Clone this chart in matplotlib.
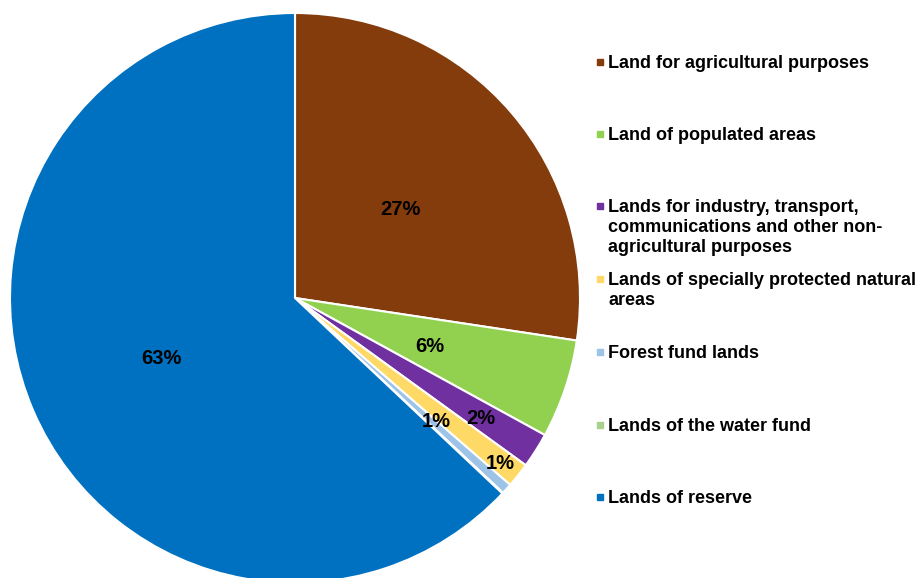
import numpy as np
import matplotlib.pyplot as plt
from matplotlib.patches import Rectangle

# land categories and shares (%)
categories = ['Land for agricultural purposes',
              'Land of populated areas',
              'Lands for industry, transport,\ncommunications and other non-\nagricultural purposes',
              'Lands of specially protected natural\nareas',
              'Forest fund lands',
              'Lands of the water fund',
              'Lands of reserve']
shares = [27.4, 5.6, 2.0, 1.4, 0.6, 0.05, 63.0]
labels = ['27%', '6%', '2%', '1%', '1%', '', '63%']
colors = ['#843C0C', '#92D050', '#7030A0', '#FFD966', '#9DC3E6', '#A9D18E', '#0070C0']

plt.rcParams['font.family'] = ['Liberation Sans', 'DejaVu Sans']

W, H = 922, 578
fig = plt.figure(figsize=(W/100, H/100), dpi=100)
cx, cy, r = 295, 298, 285
ax = fig.add_axes([(cx-r)/W, (H-cy-r)/H, 2*r/W, 2*r/H])
wedges, _ = ax.pie(shares, colors=colors, startangle=90, counterclock=False,
                   wedgeprops=dict(edgecolor='white', linewidth=1.5))
ax.set_xlim(-1, 1)
ax.set_ylim(-1, 1)
ax.set_aspect('equal')
ax.axis('off')

# label distances (fraction of radius) per slice
label_r = [0.49, 0.5, 0.77, 0.92, 0.65, 0.0, 0.51]
angle_shift = [0, 0, 0, 0, 1.5, 0, 0]
for w, lab, d, sh in zip(wedges, labels, label_r, angle_shift):
    if not lab:
        continue
    a = np.deg2rad((w.theta1 + w.theta2) / 2 + sh)
    ax.text(d*np.cos(a), d*np.sin(a) - 0.01, lab, ha='center', va='center',
            fontsize=14.5, fontweight='bold', color='black')

# legend, drawn by hand to match spacing
ys = [62, 134, 206, 279, 352, 425, 497]
for cat, col, y in zip(categories, colors, ys):
    fig.add_artist(Rectangle(((597)/W, (H-y-3)/H), 6/W, 6/H,
                             transform=fig.transFigure, color=col))
    fig.text(608/W, (H-y+7)/H, cat, ha='left', va='top', fontsize=13,
             fontweight='bold', linespacing=1.24)

fig.savefig('out.png', dpi=100)
